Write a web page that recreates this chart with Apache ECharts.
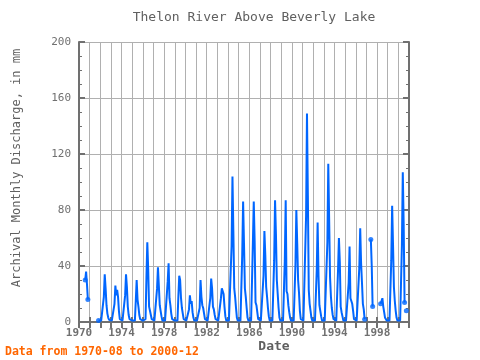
<!DOCTYPE html>
<html lang="en">
<head>
<meta charset="UTF-8">
<title>Thelon River Above Beverly Lake</title>
<style>
  * { margin: 0; padding: 0; box-sizing: border-box; }
  html, body { width: 480px; height: 360px; background: #fff; }
  #chart { width: 480px; height: 360px; }
</style>
</head>
<body>
<div id="chart"></div>
<script src="https://cdn.jsdelivr.net/npm/echarts@6/dist/echarts.min.js"></script>
<script>
  // record starts 1970-08, one value per month, null = missing
  const startYear = 1970
  const startMonth = 8
  const xMin = 1970
  const xMax = 2001
  const xLabelStep = 4
  const yTicks = [0, 40, 80, 120, 160, 200]

  const discharge = [
    30, 36, 27, 16, null,                                   // 1970 Aug-Dec
    null, null, null, null, null, null, null, null, null, null, 1, 1, // 1971
    1, 1, 1, 2, 18, 34, 24, 12, 6, 3, 1.5, 1,               // 1972
    1, 1, 1, 1, 13, 26, 19, 23, 18, 8, 2, 1,                // 1973
    1, 1, 1, 1, 19, 34, 25, 11, 5, 2, 1, 1,                 // 1974
    1, 1, 1, 1, 15, 30, 16, 11, 5, 2, 1, 1,                 // 1975
    1, 1, 1, 2, 31, 57, 38, 11, 8, 5, 2, 1,                 // 1976
    1, 1, 1, 1, 24, 39, 26, 12, 8, 4, 1, 1,                 // 1977
    1, 1, 1, 2, 29, 42, 17, 12, 6, 2, 1, 1,                 // 1978
    1, 1, 1, 1, 18, 33, 30, 17, 10, 6, 2, 1,                // 1979
    1, 1, 1, 1, 9, 19, 13, 15, 7, 3, 1, 1,                  // 1980
    1, 1, 1, 1, 10, 30, 18, 12, 10, 6, 2, 1,                // 1981
    1, 1, 1, 1, 17, 31, 24, 11, 9, 5, 2, 1,                 // 1982
    1, 1, 1, 1, 17, 24, 24, 20, 11, 4, 1, 1,                // 1983
    1, 1, 1, 2, 54, 104, 65, 24, 18, 10, 3, 1,              // 1984
    1, 1, 1, 2, 48, 86, 56, 24, 18, 10, 3, 1,               // 1985
    1, 1, 1, 2, 56, 86, 58, 14, 12, 7, 2, 1,                // 1986
    1, 1, 1, 2, 33, 65, 48, 25, 18, 10, 4, 1,               // 1987
    1, 1, 1, 2, 44, 87, 63, 30, 20, 10, 3, 1,               // 1988
    1, 1, 1, 2, 44, 87, 22, 20, 12, 7, 3, 1,                // 1989
    1, 1, 1, 2, 41, 80, 56, 30, 21, 8, 2, 1,                // 1990
    1, 1, 1, 2, 76, 149, 90, 23, 13, 8, 3, 1,               // 1991
    1, 1, 1, 2, 37, 71, 33, 12, 8, 4, 1, 1,                 // 1992
    1, 1, 1, 2, 57, 113, 73, 32, 18, 10, 5, 2,              // 1993
    1, 1, 1, 2, 37, 60, 43, 11, 7, 4, 1, 1,                 // 1994
    1, 1, 1, 2, 28, 54, 17, 15, 13, 8, 2, 1,                // 1995
    1, 1, 1, 2, 39, 67, 42, 28, 13, 9, 2, null,             // 1996
    null, null, null, null, null, 59, 40, 11, null, null, null, null, // 1997
    null, null, null, null, 13, 13, 17, 11, 7, 3, 2, 1,     // 1998
    1, 1, 1, 2, 44, 83, 55, 25, 15, 8, 3, 1,                // 1999
    1, 1, 1, 2, 55, 107, 70, 14, null, 8, null, null        // 2000
  ]

  const points = discharge.map((v, i) => [startYear + (startMonth - 1 + i) / 12, v])
  // segment ends / lone months get a dot
  const ends = points.filter((p, i) => p[1] != null &&
    (discharge[i - 1] == null || discharge[i + 1] == null))

  const gray = '#707070'
  const font = 'DejaVu Sans Mono'

  let chart = echarts.init(document.getElementById('chart'))
  chart.setOption({
    animation: false,
    backgroundColor: '#fff',
    grid: { left: 79, right: 71, top: 42, bottom: 38 },
    xAxis: [{
      type: 'value', min: xMin, max: xMax, interval: 1,
      axisLine: { lineStyle: { color: gray, width: 2 } },
      axisTick: { inside: true, length: 5, lineStyle: { color: gray, width: 2 } },
      splitLine: { show: true, lineStyle: { color: '#b0b0b0', width: 1 } },
      axisLabel: {
        color: gray, fontFamily: font, fontSize: 11, fontWeight: 'bold', margin: 6,
        formatter: v => (v - xMin) % xLabelStep === 0 ? String(v) : ''
      }
    }, {
      type: 'value', min: xMin, max: xMax, interval: 1, position: 'top',
      axisLine: { lineStyle: { color: gray, width: 2 } },
      axisTick: { inside: true, length: 6, lineStyle: { color: gray, width: 2 } },
      splitLine: { show: false },
      axisLabel: { show: false }
    }],
    yAxis: [{
      type: 'value', min: yTicks[0], max: yTicks[yTicks.length - 1], interval: yTicks[1] - yTicks[0],
      axisLine: { show: true, lineStyle: { color: gray, width: 2 } },
      axisTick: { show: true, inside: true, length: 6, lineStyle: { color: gray, width: 2 } },
      minorTick: { show: true, splitNumber: 4, length: 3, lineStyle: { color: gray, width: 1 } },
      splitLine: { show: true, lineStyle: { color: '#b0b0b0', width: 1 } },
      axisLabel: { color: gray, fontFamily: font, fontSize: 11, margin: 8 }
    }, {
      type: 'value', position: 'right',
      min: yTicks[0], max: yTicks[yTicks.length - 1], interval: yTicks[1] - yTicks[0],
      axisLine: { show: true, lineStyle: { color: gray, width: 2 } },
      axisTick: { show: true, inside: true, length: 6, lineStyle: { color: gray, width: 2 } },
      minorTick: { show: true, splitNumber: 4, length: 3, lineStyle: { color: gray, width: 1 } },
      splitLine: { show: false },
      axisLabel: { show: false }
    }],
    series: [{
      type: 'line',
      data: points,
      showSymbol: false,
      connectNulls: false,
      lineStyle: { color: '#0066ff', width: 2 },
      z: 3
    }, {
      type: 'scatter',
      data: ends,
      symbol: 'circle',
      symbolSize: 5,
      itemStyle: { color: '#0066ff' },
      z: 4
    }],
    graphic: [{
      type: 'text', x: 254, y: 18,
      style: { text: 'Thelon River Above Beverly Lake', fill: '#606060',
        font: '13px "DejaVu Sans Mono"', align: 'center', verticalAlign: 'middle' }
    }, {
      type: 'text', x: 17, y: 168, rotation: Math.PI / 2,
      style: { text: 'Archival Monthly Discharge, in mm', fill: '#606060',
        font: '12px "DejaVu Sans Mono"', align: 'center', verticalAlign: 'middle' }
    }, {
      type: 'text', x: 274, y: 347,
      style: { text: 'Date', fill: '#606060',
        font: 'bold 13px "DejaVu Sans Mono"', align: 'center', verticalAlign: 'middle' }
    }, {
      type: 'text', x: 5, y: 352,
      style: { text: 'Data from 1970-08 to 2000-12', fill: '#ff6600',
        font: 'bold 11.5px "DejaVu Sans Mono"', align: 'left', verticalAlign: 'middle' }
    }]
  })
</script>
</body>
</html>
